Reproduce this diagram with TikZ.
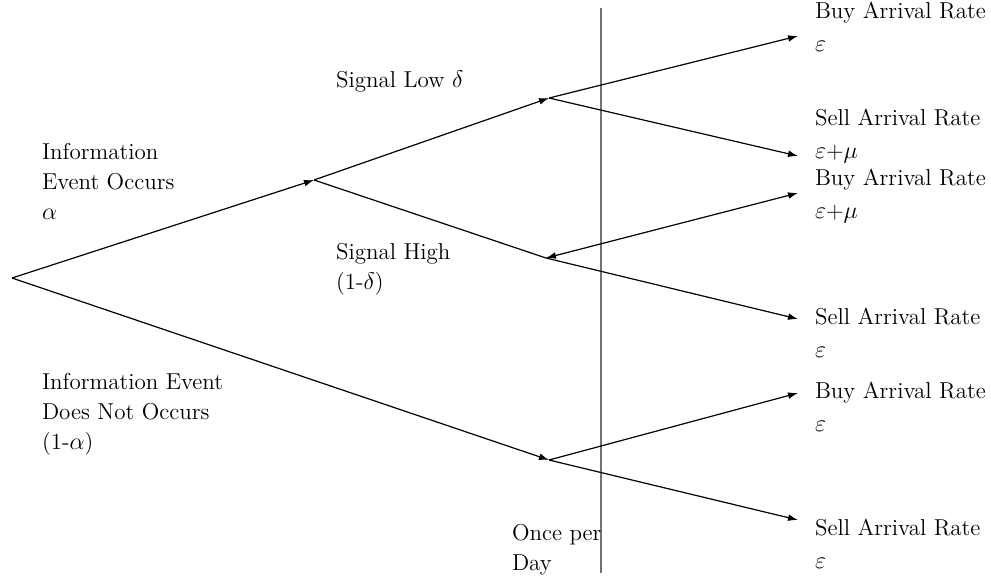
\documentclass[tikz,border=0pt]{standalone}
\usetikzlibrary{arrows.meta}
\begin{document}
\begin{tikzpicture}[x=0.5pt,y=-0.5pt,
  lbl/.style={anchor=base west,inner sep=0pt,outer sep=0pt,align=left,font=\fontsize{11.5}{15}\selectfont},
  rlbl/.style={lbl,font=\fontsize{11.5}{16.5}\selectfont},
  br/.style={line width=0.6pt},
  arr/.style={br,-{Latex[length=5pt,width=3.4pt]}},
  darr/.style={br,{Latex[length=5pt,width=3.4pt]}-{Latex[length=5pt,width=3.4pt]}},
  divider/.style={line width=0.6pt,draw=black!55}]
\useasboundingbox (0,0) rectangle (991,579);
% branch points
\coordinate (root) at (12,278);
\coordinate (A) at (314,180);
\coordinate (L) at (549,98);
\coordinate (H) at (546,258);
\coordinate (N) at (549,460);
% leaf arrow tips
\coordinate (b1) at (798,36);
\coordinate (s1) at (798,156);
\coordinate (b2) at (798,193);
\coordinate (s2) at (798,319);
\coordinate (b3) at (798,393);
\coordinate (s3) at (798,520);
% divider
\coordinate (vt) at (601,8);
\coordinate (vb) at (601,573);
\draw[divider] (vt) -- (vb);
% tree
\draw[arr] (root) -- (A);
\draw[arr] (root) -- (N);
\draw[arr] (A) -- (L);
\draw[br] (A) -- (H);
\draw[arr] (L) -- (b1);
\draw[arr] (L) -- (s1);
\draw[darr] (H) -- (b2);
\draw[arr] (H) -- (s2);
\draw[arr] (N) -- (b3);
\draw[arr] (N) -- (s3);
% labels (anchor = baseline of the last line)
\node[lbl] (tinfo) at (42,219) {Information\\Event Occurs\\$\alpha$};
\node[lbl] (tnoinfo) at (42,449) {Information Event\\Does Not Occurs\\(1-$\alpha$)};
\node[lbl] (tlow) at (336,87) {Signal Low $\delta$};
\node[lbl] (thigh) at (336,289) {Signal High\\(1-$\delta$)};
\node[lbl] (tonce) at (512,570) {Once per\\Day};
\node[rlbl] (r1) at (815,51) {Buy Arrival Rate\\$\varepsilon$};
\node[rlbl] (r2) at (815,158) {Sell Arrival Rate\\$\varepsilon$+$\mu$};
\node[rlbl] (r3) at (815,218) {Buy Arrival Rate\\$\varepsilon$+$\mu$};
\node[rlbl] (r4) at (815,357) {Sell Arrival Rate\\$\varepsilon$};
\node[rlbl] (r5) at (815,431) {Buy Arrival Rate\\$\varepsilon$};
\node[rlbl] (r6) at (815,568) {Sell Arrival Rate\\$\varepsilon$};
\end{tikzpicture}
\end{document}
